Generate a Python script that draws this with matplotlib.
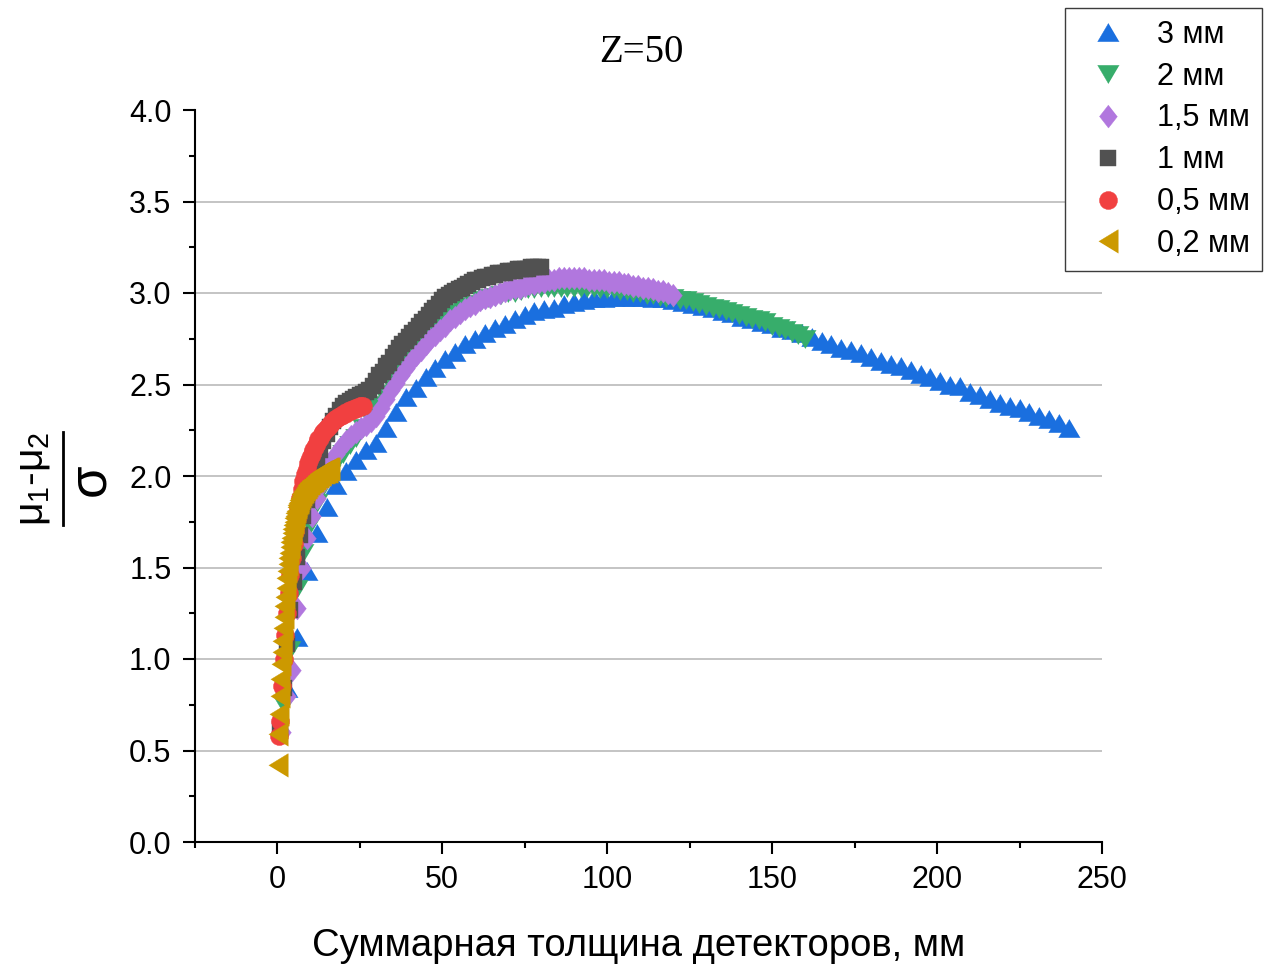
import numpy as np
import matplotlib
matplotlib.use("Agg")
import matplotlib.pyplot as plt
from matplotlib.ticker import FixedLocator
from matplotlib.lines import Line2D

plt.rcParams['font.family'] = ['Liberation Sans', 'DejaVu Sans']
plt.rcParams['mathtext.fontset'] = 'custom'
plt.rcParams['mathtext.rm'] = 'Liberation Sans'
plt.rcParams['mathtext.it'] = 'Liberation Sans'
plt.rcParams['mathtext.bf'] = 'Liberation Sans:bold'

# ---------------- data ----------------
labels = ["3 мм", "2 мм", "1,5 мм", "1 мм", "0,5 мм", "0,2 мм"]
thickness = [3.0, 2.0, 1.5, 1.0, 0.5, 0.2]   # mm per detector

y_3mm = [0.84, 1.12, 1.48, 1.69, 1.83, 1.95, 2.03, 2.09, 2.14, 2.18,
         2.26, 2.35, 2.43, 2.48, 2.54, 2.59, 2.64, 2.68, 2.72, 2.75,
         2.78, 2.81, 2.83, 2.86, 2.88, 2.90, 2.91, 2.92, 2.94, 2.95,
         2.96, 2.97, 2.97, 2.98, 2.98, 2.98, 2.98, 2.97, 2.97, 2.96,
         2.95, 2.94, 2.93, 2.92, 2.90, 2.89, 2.87, 2.86, 2.84, 2.83,
         2.81, 2.80, 2.78, 2.76, 2.74, 2.72, 2.70, 2.69, 2.67, 2.65,
         2.63, 2.61, 2.60, 2.58, 2.56, 2.54, 2.52, 2.50, 2.49, 2.46,
         2.44, 2.42, 2.40, 2.38, 2.37, 2.35, 2.33, 2.31, 2.29, 2.26]

y_2mm = [0.75, 1.05, 1.38, 1.58, 1.73, 1.85, 1.94, 2.01, 2.07, 2.12,
         2.17, 2.21, 2.26, 2.32, 2.39, 2.45, 2.52, 2.58, 2.63, 2.68,
         2.72, 2.76, 2.79, 2.82, 2.85, 2.87, 2.89, 2.91, 2.93, 2.94,
         2.96, 2.97, 2.98, 2.99, 3.00, 3.00, 3.01, 3.02, 3.02, 3.03,
         3.03, 3.03, 3.03, 3.03, 3.03, 3.03, 3.03, 3.03, 3.02, 3.02,
         3.02, 3.01, 3.01, 3.00, 3.00, 2.99, 2.99, 2.98, 2.97, 2.97,
         2.96, 2.96, 2.95, 2.94, 2.93, 2.92, 2.91, 2.90, 2.89, 2.88,
         2.87, 2.86, 2.85, 2.84, 2.82, 2.81, 2.80, 2.78, 2.77, 2.75]

y_15mm = [0.60, 0.80, 0.94, 1.28, 1.50, 1.66, 1.78, 1.88, 1.96, 2.02,
          2.08, 2.12, 2.16, 2.19, 2.22, 2.24, 2.26, 2.28, 2.30, 2.33,
          2.37, 2.42, 2.47, 2.51, 2.55, 2.59, 2.63, 2.66, 2.69, 2.72,
          2.75, 2.77, 2.80, 2.82, 2.85, 2.87, 2.89, 2.91, 2.93, 2.94,
          2.96, 2.97, 2.98, 2.99, 3.00, 3.01, 3.02, 3.03, 3.03, 3.04,
          3.05, 3.05, 3.06, 3.06, 3.07, 3.07, 3.08, 3.08, 3.08, 3.08,
          3.08, 3.08, 3.07, 3.07, 3.07, 3.07, 3.06, 3.06, 3.06, 3.05,
          3.05, 3.04, 3.04, 3.03, 3.03, 3.02, 3.01, 3.01, 3.00, 2.99]

y_1mm = [0.62, 0.84, 1.08, 1.27, 1.42, 1.56, 1.68, 1.78, 1.87, 1.95,
         2.02, 2.08, 2.14, 2.19, 2.23, 2.27, 2.30, 2.33, 2.36, 2.38,
         2.40, 2.41, 2.42, 2.43, 2.44, 2.45, 2.46, 2.47, 2.49, 2.52,
         2.55, 2.57, 2.60, 2.62, 2.65, 2.67, 2.70, 2.72, 2.74, 2.76,
         2.78, 2.80, 2.82, 2.84, 2.86, 2.88, 2.90, 2.92, 2.94, 2.96,
         2.98, 2.99, 3.00, 3.01, 3.02, 3.03, 3.04, 3.05, 3.06, 3.07,
         3.07, 3.08, 3.09, 3.09, 3.10, 3.10, 3.11, 3.11, 3.11, 3.12,
         3.12, 3.12, 3.13, 3.13, 3.13, 3.13, 3.14, 3.14, 3.14, 3.14]

y_05mm = [0.58, 0.66, 0.85, 1.00, 1.13, 1.25, 1.36, 1.46, 1.55, 1.63,
          1.70, 1.77, 1.83, 1.88, 1.93, 1.97, 2.01, 2.04, 2.07, 2.10,
          2.12, 2.14, 2.16, 2.18, 2.20, 2.21, 2.23, 2.24, 2.25, 2.26,
          2.27, 2.28, 2.29, 2.30, 2.31, 2.31, 2.32, 2.33, 2.33, 2.34,
          2.34, 2.35, 2.35, 2.36, 2.36, 2.36, 2.37, 2.37, 2.37, 2.38,
          2.38, 2.38]

y_02mm = [0.42, 0.59, 0.70, 0.80, 0.89, 0.97, 1.04, 1.10, 1.17, 1.23,
          1.29, 1.34, 1.39, 1.44, 1.48, 1.52, 1.55, 1.58, 1.61, 1.64,
          1.66, 1.69, 1.71, 1.73, 1.75, 1.77, 1.78, 1.80, 1.81, 1.83,
          1.84, 1.85, 1.86, 1.87, 1.88, 1.89, 1.90, 1.90, 1.91, 1.92,
          1.92, 1.93, 1.93, 1.94, 1.94, 1.95, 1.95, 1.96, 1.96, 1.96,
          1.97, 1.97, 1.97, 1.98, 1.98, 1.98, 1.99, 1.99, 1.99, 2.00,
          2.00, 2.00, 2.00, 2.01, 2.01, 2.01, 2.01, 2.02, 2.02, 2.02,
          2.02, 2.02, 2.03, 2.03, 2.03, 2.03, 2.03, 2.04, 2.04, 2.04]

series_y = [y_3mm, y_2mm, y_15mm, y_1mm, y_05mm, y_02mm]

x_ticks = [0, 50, 100, 150, 200, 250]
x_minor = [-25, 25, 75, 125, 175, 225]
y_ticks = [0.0, 0.5, 1.0, 1.5, 2.0, 2.5, 3.0, 3.5, 4.0]
y_tick_labels = ["0.0", "0.5", "1.0", "1.5", "2.0", "2.5", "3.0", "3.5", "4.0"]
y_minor = [0.25, 0.75, 1.25, 1.75, 2.25, 2.75, 3.25, 3.75]

title = "Z=50"
xlabel = "Суммарная толщина детекторов, мм"
ylabel_num = r"$\mu_1\text{-}\mu_2$"
ylabel_den = "σ"

# ---------------- style ----------------
colors = ["#1A6FDF", "#37AD6B", "#B177DE", "#515151", "#F14040", "#CC9900"]
tri_up = [(0, 0.85), (-1, -0.85), (1, -0.85)]
tri_dn = [(0, -0.85), (-1, 0.85), (1, 0.85)]
diamond = [(0, 1), (-0.78, 0), (0, -1), (0.78, 0)]
tri_left = [(-0.82, 0), (0.82, 1), (0.82, -1)]
markers = [tri_up, tri_dn, diamond, "s", "o", tri_left]
msizes = [15.5, 15.5, 16.5, 12.0, 13.0, 17.0]

W, H = 1281, 973
fig = plt.figure(figsize=(W / 100, H / 100), dpi=100)
ax = fig.add_axes([194.5 / W, 1 - 842 / H, (1102 - 194.5) / W, (842 - 110) / H])

for i, (ys, t, lab, c, m, ms) in enumerate(zip(series_y, thickness, labels, colors, markers, msizes)):
    xs = np.arange(1, len(ys) + 1) * t
    ax.plot(xs, ys, linestyle="none", marker=m, markersize=ms, color=c,
            markeredgecolor=c, markeredgewidth=0.3, label=lab, zorder=3 + i)

ax.set_xlim(-25, 250)
ax.set_ylim(0, 4.0)

for yv in y_ticks:
    if 0 < yv < 4.0:
        ax.axhline(yv, color="#b4b4b4", lw=1.1, zorder=1)

ax.xaxis.set_major_locator(FixedLocator(x_ticks))
ax.xaxis.set_minor_locator(FixedLocator(x_minor))
ax.yaxis.set_major_locator(FixedLocator(y_ticks))
ax.yaxis.set_minor_locator(FixedLocator(y_minor))
ax.set_xticklabels([str(v) for v in x_ticks])
ax.set_yticklabels(y_tick_labels)

for s in ["top", "right"]:
    ax.spines[s].set_visible(False)
for s in ["left", "bottom"]:
    ax.spines[s].set_linewidth(1.5)
    ax.spines[s].set_color("black")

ax.tick_params(which="major", direction="out", length=8.6, width=1.5,
               labelsize=22, pad=8.0, colors="black")
ax.tick_params(which="minor", direction="out", length=4.3, width=1.5)

fig.text(641 / W, 1 - 53 / H, title, family="Liberation Serif", fontsize=28,
         ha="center", va="center")
fig.text(639 / W, 1 - 946 / H, xlabel, fontsize=27.5, ha="center", va="center")

# y label: fraction (mu1 - mu2) / sigma, built from two texts and a bar
fig.text(33 / W, 1 - 479 / H, ylabel_num, fontsize=29.5, rotation=90,
         ha="center", va="center")
fig.text(90 / W, 1 - 480 / H, ylabel_den, fontsize=38, rotation=90,
         ha="center", va="center")
fig.add_artist(Line2D([63 / W, 63 / W], [1 - 432 / H, 1 - 525 / H],
                      transform=fig.transFigure, color="black", lw=2.0))

leg = ax.legend(loc="upper left", bbox_to_anchor=(1065 / W, 1 - 8 / H),
                bbox_transform=fig.transFigure, borderaxespad=0,
                frameon=True, fancybox=False, edgecolor="#3c3c3c",
                fontsize=22, handlelength=2.06, handletextpad=0.58,
                borderpad=0.38, labelspacing=0.39, numpoints=1, framealpha=1)
leg.get_frame().set_linewidth(1.0)

fig.savefig("out.png", dpi=100)
